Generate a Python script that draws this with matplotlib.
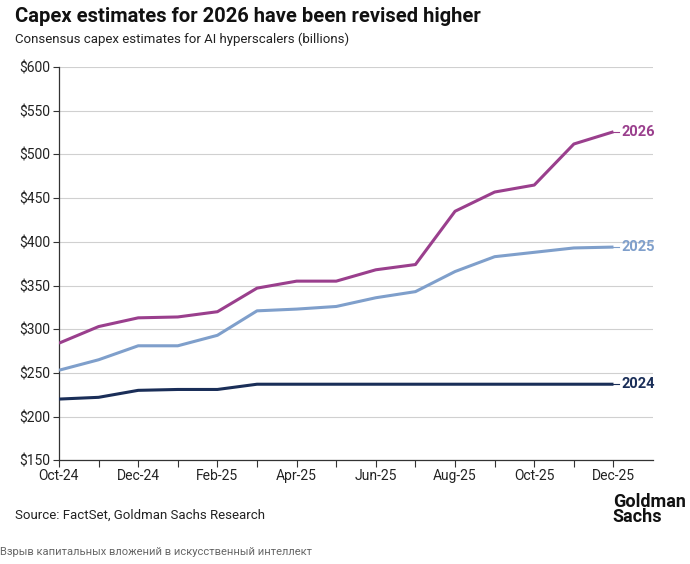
import numpy as np
import matplotlib
matplotlib.use("Agg")
from matplotlib import pyplot as plt

plt.rcParams['font.family'] = ['Roboto', 'DejaVu Sans']

months = ['Oct-24', 'Nov-24', 'Dec-24', 'Jan-25', 'Feb-25', 'Mar-25', 'Apr-25', 'May-25',
          'Jun-25', 'Jul-25', 'Aug-25', 'Sep-25', 'Oct-25', 'Nov-25', 'Dec-25']
capex_2026 = [284, 303, 313, 314, 320, 347, 355, 355, 368, 374, 435, 457, 465, 512, 526]
capex_2025 = [253, 265, 281, 281, 293, 321, 323, 326, 336, 343, 366, 383, 388, 393, 394]
capex_2024 = [220, 222, 230, 231, 231, 237, 237, 237, 237, 237, 237, 237, 237, 237, 237]
series_names = ['2026', '2025', '2024']
colors = ['#9a3f8d', '#7f9fcb', '#1a2e58']

fig = plt.figure(figsize=(6.9, 5.64), dpi=100)
ax = fig.add_axes([0.0855, 0.184, 0.861, 0.697])

x = np.arange(len(months))
for vals, name, c in zip([capex_2026, capex_2025, capex_2024], series_names, colors):
    ax.plot(x, vals, color=c, lw=2.2, solid_capstyle='butt', zorder=3)
    ax.plot([x[-1], x[-1] + 0.15], [vals[-1], vals[-1]], color=c, lw=0.8)
    ax.text(x[-1] + 0.2, vals[-1], name, color=c, fontsize=10.5, fontweight='bold',
            va='center', ha='left')

ax.set_xlim(0, 15)
ax.set_ylim(150, 600)
ax.set_yticks(np.arange(150, 601, 50))
ax.set_yticklabels(['$%d' % v for v in range(150, 601, 50)], fontsize=10, color='#222222')
ax.set_xticks(x[::2])
ax.set_xticklabels(months[::2], fontsize=10, color='#222222')
ax.set_xticks(x, minor=True)
ax.tick_params(axis='x', which='both', length=5, width=0.8, color='#333333', pad=1.5)
ax.tick_params(axis='y', length=4, width=0.8, color='#333333', pad=2)
ax.grid(axis='y', color='#d0d0d0', lw=0.8, zorder=0)
for s in ['top', 'right']:
    ax.spines[s].set_visible(False)
for s in ['left', 'bottom']:
    ax.spines[s].set_color('#333333')
    ax.spines[s].set_linewidth(0.9)

fig.text(0.022, 0.988, 'Capex estimates for 2026 have been revised higher', fontsize=14.5,
         fontweight='bold', va='top', ha='left', color='#111111')
fig.text(0.022, 0.943, 'Consensus capex estimates for AI hyperscalers (billions)', fontsize=9.5,
         va='top', ha='left', color='#222222')
fig.text(0.022, 0.087, 'Source: FactSet, Goldman Sachs Research', fontsize=9.5,
         va='center', ha='left', color='#222222')
fig.text(0.888, 0.096, 'Goldman\nSachs', fontsize=13, fontweight='bold', va='center',
         ha='left', color='#111111', linespacing=0.8)
fig.text(0.0, 0.021, 'Взрыв капитальных вложений в искусственный интеллект', fontsize=8,
         va='center', ha='left', color='#666666')

fig.savefig('out.png', dpi=100)
